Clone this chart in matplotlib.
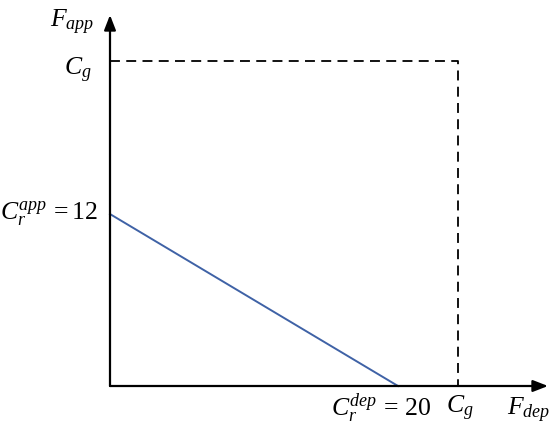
import matplotlib
matplotlib.use("Agg")
import matplotlib.pyplot as plt

# Data
cg_x = 24.2          # C_g position on F_dep axis
cg_y = 22.7          # C_g position on F_app axis
cr_app = 12          # C_r^app intercept
cr_dep = 20          # C_r^dep intercept
line_x = [0, cr_dep]
line_y = [cr_app, 0]

plt.rcParams['mathtext.fontset'] = 'custom'
plt.rcParams['mathtext.rm'] = 'Liberation Serif'
plt.rcParams['mathtext.it'] = 'Liberation Serif:italic'
plt.rcParams['font.family'] = 'Liberation Serif'

W, H = 550, 434
fig = plt.figure(figsize=(W / 100, H / 100), dpi=100)
ox, oy = 110, 386
xend, ytop = 548, 15
ax = fig.add_axes([ox / W, (H - oy) / H, (xend - ox) / W, (oy - ytop) / H])
ax.set_xlim(0, (xend - ox) / 14.4)
ax.set_ylim(0, (oy - ytop) / 14.33)
ax.axis('off')

# axes with arrows
ax.annotate('', xy=(1, 0), xytext=(0, 0), xycoords='axes fraction',
            arrowprops=dict(arrowstyle='-|>,head_length=0.9,head_width=0.35',
                            color='black', lw=1.6, shrinkA=0, shrinkB=0))
ax.annotate('', xy=(0, 1), xytext=(0, 0), xycoords='axes fraction',
            arrowprops=dict(arrowstyle='-|>,head_length=0.9,head_width=0.35',
                            color='black', lw=1.6, shrinkA=0, shrinkB=0))

# dashed box
ax.plot([0, cg_x, cg_x], [cg_y, cg_y, 0], color='black', lw=1.3,
        dashes=(5.5, 3.5), solid_capstyle='butt', clip_on=False)

# blue line
ax.plot(line_x, line_y, color='#3f62a6', lw=1.4, clip_on=False)

fs = 18.5
def ptxt(x, y, s, ha='center', va='center'):
    fig.text(x / W, 1 - y / H, s, ha=ha, va=va, fontsize=fs)

ptxt(94, 22, r'$F_{app}$', ha='right')
ptxt(92, 70, r'$C_g$', ha='right')
ptxt(98, 214, r'$C_r^{app}\,=12$', ha='right')
ptxt(381, 408, r'$C_r^{dep}\,=\,20$')
ptxt(460, 408, r'$C_g$')
ptxt(529, 410, r'$F_{dep}$')

fig.savefig('out.png', dpi=100)
